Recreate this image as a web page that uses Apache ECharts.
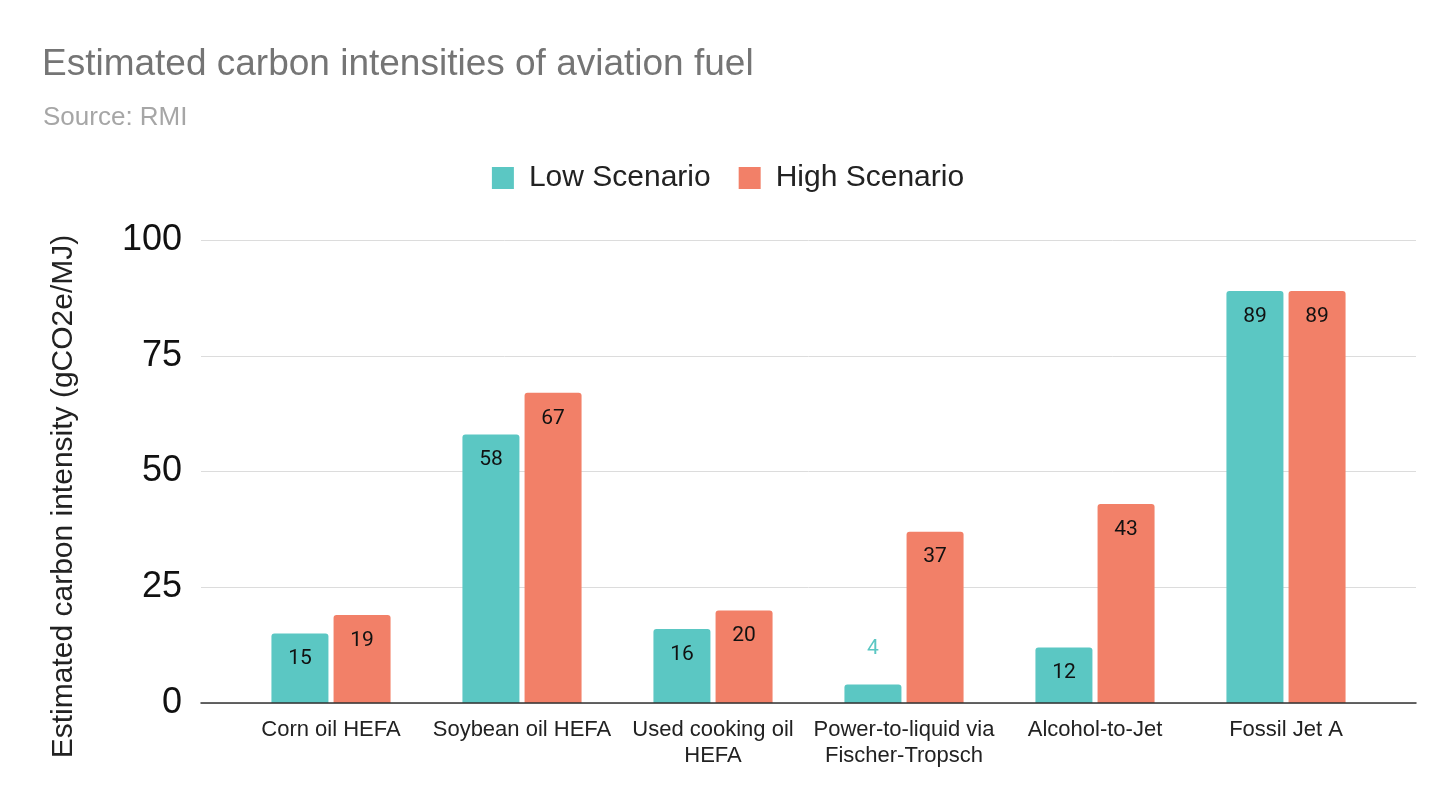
<!DOCTYPE html>
<html>
<head>
  <meta charset="utf-8">
  <script src="https://cdn.jsdelivr.net/npm/echarts@6/dist/echarts.min.js"></script>
  <title>Estimated carbon intensities of aviation fuel</title>
  <style>
    html, body { margin: 0; padding: 0; background: #fff; }
    #chart { width: 1456px; height: 808px; }
  </style>
</head>
<body>
  <div id="chart"></div>
  <script>
    const categories = [
      "Corn oil HEFA",
      "Soybean oil HEFA",
      "Used cooking oil\nHEFA",
      "Power-to-liquid via\nFischer-Tropsch",
      "Alcohol-to-Jet",
      "Fossil Jet A",
    ];
    const lowScenario = [15, 58, 16, 4, 12, 89];
    const highScenario = [19, 67, 20, 37, 43, 89];
    const yTicks = [0, 25, 50, 75, 100];

    const LOW_COLOR = "#5bc7c3";
    const HIGH_COLOR = "#f28068";
    const SANS = "Arial, 'Liberation Sans', sans-serif";

    // bars too short to hold their label get it above, in the bar colour
    function withLabels(values, color) {
      return values.map((v) =>
        v < 8
          ? { value: v, label: { position: "top", distance: 25, color: color } }
          : v
      );
    }

    const chart = echarts.init(document.getElementById("chart"));

    const option = {
      animation: false,
      title: [
        {
          text: "Estimated carbon intensities of aviation fuel",
          left: 37,
          top: 41,
          textStyle: { fontFamily: SANS, fontSize: 37, fontWeight: "normal", color: "#757575" },
        },
        {
          text: "Source: RMI",
          left: 38,
          top: 100,
          textStyle: { fontFamily: SANS, fontSize: 26, fontWeight: "normal", color: "#a6a6a6" },
        },
      ],
      legend: {
        top: 158,
        left: "center",
        itemWidth: 22,
        itemHeight: 22,
        itemGap: 28,
        icon: "rect",
        data: ["Low Scenario", "High Scenario"],
        textStyle: {
          fontFamily: SANS,
          fontSize: 30,
          color: "#222",
          padding: [0, 0, 0, 10],
        },
      },
      grid: [
        { left: 201, right: 40, top: 240, bottom: 105 },
        { left: 235.5, right: 74.5, top: 240, bottom: 105 },
      ],
      xAxis: [
        {
          gridIndex: 0,
          type: "value",
          min: 0,
          max: 1,
          axisLabel: { show: false },
          axisTick: { show: false },
          splitLine: { show: false },
          axisLine: { show: true, lineStyle: { color: "#333", width: 1.5 } },
          z: 5,
        },
        {
          gridIndex: 1,
          type: "category",
          data: categories,
          axisLine: { show: false },
          axisTick: { show: false },
          axisLabel: {
            margin: 14,
            fontFamily: SANS,
            fontSize: 22,
            lineHeight: 26,
            color: "#222",
            interval: 0,
          },
        },
      ],
      yAxis: [
        {
          gridIndex: 0,
          type: "value",
          min: yTicks[0],
          max: yTicks[yTicks.length - 1],
          interval: yTicks[1] - yTicks[0],
          name: "Estimated carbon intensity (gCO2e/MJ)",
          nameLocation: "middle",
          nameGap: 122,
          nameTextStyle: {
            fontFamily: SANS,
            fontSize: 30,
            color: "#222",
            padding: [0, 50, 0, 0],
          },
          axisLine: { show: false },
          axisTick: { show: false },
          axisLabel: {
            margin: 19,
            fontFamily: SANS,
            fontSize: 36,
            color: "#111",
          },
          splitLine: { lineStyle: { color: "#dcdcdc", width: 1 } },
        },
        {
          gridIndex: 1,
          type: "value",
          min: yTicks[0],
          max: yTicks[yTicks.length - 1],
          show: false,
          splitLine: { show: false },
        },
      ],
      series: [
        {
          name: "Low Scenario",
          type: "bar",
          xAxisIndex: 1,
          yAxisIndex: 1,
          barWidth: 57,
          barGap: "9%",
          data: withLabels(lowScenario, LOW_COLOR),
          itemStyle: { color: LOW_COLOR, borderRadius: [3, 3, 0, 0] },
          label: {
            show: true,
            position: "insideTop",
            distance: 15,
            fontFamily: "Roboto",
            fontSize: 21,
            color: "#111",
          },
        },
        {
          name: "High Scenario",
          type: "bar",
          xAxisIndex: 1,
          yAxisIndex: 1,
          barWidth: 57,
          barGap: "9%",
          data: withLabels(highScenario, HIGH_COLOR),
          itemStyle: { color: HIGH_COLOR, borderRadius: [3, 3, 0, 0] },
          label: {
            show: true,
            position: "insideTop",
            distance: 15,
            fontFamily: "Roboto",
            fontSize: 21,
            color: "#111",
          },
        },
      ],
    };

    chart.setOption(option);
    window.addEventListener("resize", () => chart.resize());
  </script>
</body>
</html>
